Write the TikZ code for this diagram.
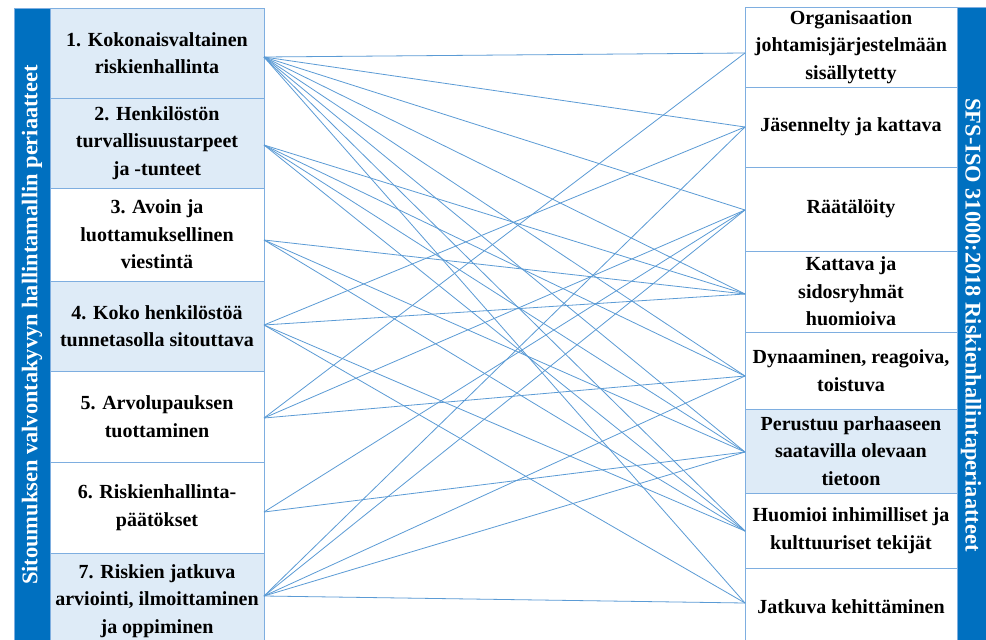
\documentclass[tikz,border=0pt]{standalone}
\usepackage{fontspec}
\setmainfont{Liberation Serif}
\definecolor{barblue}{HTML}{0070C0}
\definecolor{lightfill}{HTML}{DEEBF7}
\definecolor{edgeblue}{HTML}{7EAEE0}
\definecolor{linkblue}{HTML}{5B9BD5}
\tikzset{
  box/.style={draw=edgeblue, line width=1pt, rectangle, inner sep=0pt, align=center,
    font=\bfseries\fontsize{20}{27.5}\selectfont},
  lbox/.style={box, minimum width=214pt},
  rbox/.style={box, minimum width=212pt},
  barbox/.style={fill=barblue, draw=edgeblue, line width=1pt, rectangle, inner sep=0pt},
  bartext/.style={text=white, inner sep=0pt, font=\bfseries\fontsize{22.4}{26}\selectfont},
  link/.style={draw=linkblue, line width=0.8pt},
}
\begin{document}
\begin{tikzpicture}[x=1pt,y=-1pt]
\useasboundingbox (0,0) rectangle (986,640);
\fill[white] (0,0) rectangle (986,640);

% side bars
\node[barbox, minimum width=36pt, minimum height=652pt] (lbar) at (32,334) {};
\node[bartext, rotate=90] (ltitle) at (32,325) {Sitoumuksen valvontakyvyn hallintamallin periaatteet};
\node[barbox, minimum width=30pt, minimum height=653pt] (rbar) at (972,333.5) {};
\node[bartext, rotate=-90] (rtitle) at (971,325) {SFS-ISO 31000:2018 Riskienhallintaperiaatteet};

% left boxes
\node[lbox, fill=lightfill, minimum height=90pt] (b1) at (157,53) {1. Kokonaisvaltainen\\riskienhallinta};
\node[lbox, fill=lightfill, minimum height=90pt] (b2) at (157,143) {2. Henkilöstön\\turvallisuustarpeet\\ja -tunteet};
\node[lbox, fill=white, minimum height=93pt] (b3) at (157,234.5) {3. Avoin ja\\luottamuksellinen\\viestintä};
\node[lbox, fill=lightfill, minimum height=90pt] (b4) at (157,326) {4. Koko henkilöstöä\\tunnetasolla sitouttava};
\node[lbox, fill=white, minimum height=91pt] (b5) at (157,416.5) {5. Arvolupauksen\\tuottaminen};
\node[lbox, fill=white, minimum height=91pt] (b6) at (157,507.5) {6. Riskienhallinta-\\päätökset};
\node[lbox, fill=lightfill, minimum height=96pt] (b7) at (157,601) {7. Riskien jatkuva\\arviointi, ilmoittaminen\\ja oppiminen};

% right boxes
\node[rbox, fill=white, minimum height=80pt] (r1box) at (851,47) {Organisaation\\johtamisjärjestelmään\\sisällytetty};
\node[rbox, fill=white, minimum height=80pt] (r2box) at (851,127) {Jäsennelty ja kattava};
\node[rbox, fill=white, minimum height=84pt] (r3box) at (851,209) {Räätälöity};
\node[rbox, fill=white, minimum height=81pt] (r4box) at (851,291.5) {Kattava ja\\sidosryhmät\\huomioiva};
\node[rbox, fill=white, minimum height=77pt] (r5box) at (851,370.5) {Dynaaminen, reagoiva,\\toistuva};
\node[rbox, fill=lightfill, minimum height=84pt] (r6box) at (851,451) {Perustuu parhaaseen\\saatavilla olevaan\\tietoon};
\node[rbox, fill=white, minimum height=75pt] (r7box) at (851,530.5) {Huomioi inhimilliset ja\\kulttuuriset tekijät};
\node[rbox, fill=white, minimum height=78pt] (r8box) at (851,607) {Jatkuva kehittäminen};

% connector end points on the box edges
\coordinate (l1) at (264,57);
\coordinate (l2) at (264,145);
\coordinate (l3) at (264,240);
\coordinate (l4) at (264,325);
\coordinate (l5) at (264,418);
\coordinate (l6) at (264,512);
\coordinate (l7) at (264,596);
\coordinate (r1) at (745,53);
\coordinate (r2) at (745,127);
\coordinate (r3) at (745,210);
\coordinate (r4) at (745,294);
\coordinate (r5) at (745,376);
\coordinate (r6) at (745,452);
\coordinate (r7) at (745,531);
\coordinate (r8) at (745,603);

\foreach \a/\b in {1/1,1/2,1/3,1/4,1/5,1/6,1/7,1/8,
                   2/4,2/5,2/6,2/7,
                   3/4,3/6,3/7,
                   4/2,4/4,4/7,4/8,
                   5/1,5/3,5/5,
                   6/3,6/6,
                   7/2,7/3,7/5,7/6,7/8}
  \draw[link] (l\a) -- (r\b);
\end{tikzpicture}
\end{document}
